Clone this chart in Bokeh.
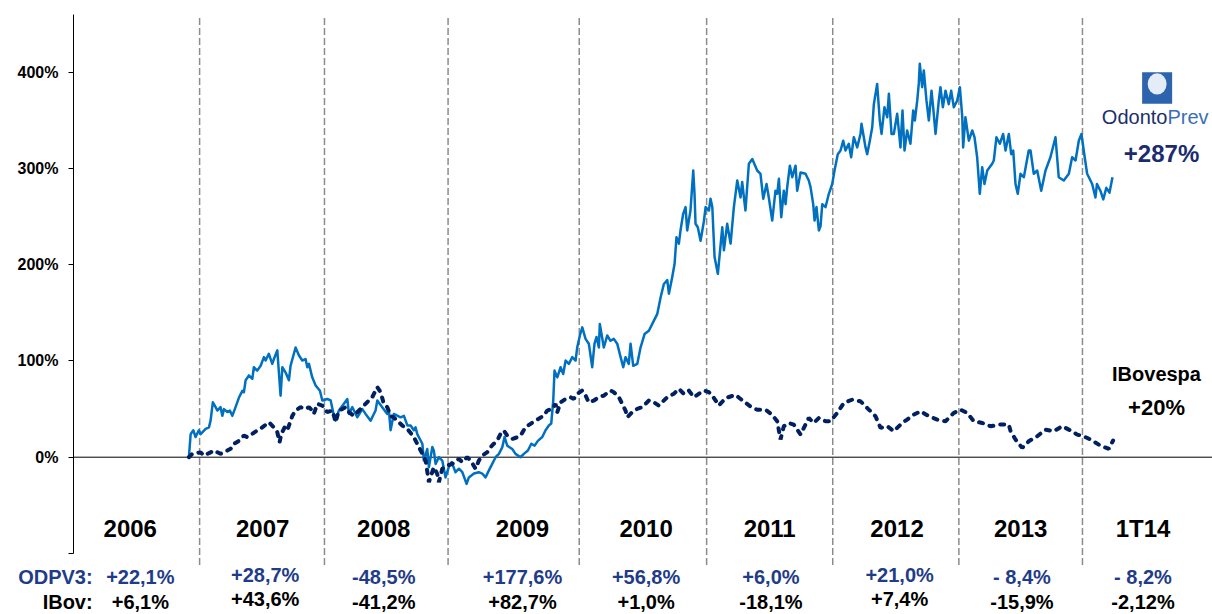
from bokeh.plotting import figure
from bokeh.models import Range1d, FixedTicker, ColumnDataSource
from bokeh.core.properties import value
from bokeh.embed import file_html
from bokeh.resources import INLINE

# ---------------- data (decimal year, % accumulated return) ----------------
odpv3_t = [2006.915, 2006.929, 2006.950, 2006.968, 2006.994, 2007.008, 2007.048, 2007.074, 2007.087, 2007.105,
           2007.127, 2007.140, 2007.166, 2007.180, 2007.193, 2007.220, 2007.240, 2007.259, 2007.285, 2007.312,
           2007.339, 2007.351, 2007.365, 2007.391, 2007.418, 2007.430, 2007.457, 2007.484, 2007.510, 2007.523,
           2007.549, 2007.576, 2007.589, 2007.616, 2007.642, 2007.656, 2007.682, 2007.708, 2007.721, 2007.761,
           2007.787, 2007.814, 2007.840, 2007.854, 2007.867, 2007.893, 2007.920, 2007.954, 2007.973, 2008.012,
           2008.039, 2008.065, 2008.078, 2008.104, 2008.144, 2008.171, 2008.184, 2008.211, 2008.250, 2008.290,
           2008.316, 2008.356, 2008.395, 2008.409, 2008.448, 2008.488, 2008.501, 2008.514, 2008.540, 2008.593,
           2008.620, 2008.647, 2008.673, 2008.699, 2008.712, 2008.726, 2008.766, 2008.778, 2008.805, 2008.818,
           2008.845, 2008.857, 2008.871, 2008.897, 2008.924, 2008.950, 2008.976, 2008.998, 2009.029, 2009.056,
           2009.083, 2009.117, 2009.135, 2009.175, 2009.214, 2009.241, 2009.267, 2009.293, 2009.320, 2009.347,
           2009.373, 2009.400, 2009.418, 2009.439, 2009.479, 2009.505, 2009.545, 2009.571, 2009.603, 2009.630,
           2009.656, 2009.682, 2009.717, 2009.743, 2009.769, 2009.788, 2009.804, 2009.814, 2009.836, 2009.862,
           2009.883, 2009.902, 2009.928, 2009.955, 2009.981, 2009.994, 2010.015, 2010.034, 2010.060, 2010.086,
           2010.113, 2010.131, 2010.147, 2010.166, 2010.173, 2010.205, 2010.232, 2010.258, 2010.284, 2010.311,
           2010.338, 2010.359, 2010.377, 2010.403, 2010.417, 2010.438, 2010.470, 2010.496, 2010.528, 2010.562,
           2010.602, 2010.629, 2010.655, 2010.681, 2010.708, 2010.721, 2010.747, 2010.766, 2010.781, 2010.800,
           2010.813, 2010.834, 2010.853, 2010.866, 2010.892, 2010.914, 2010.924, 2010.932, 2010.950, 2010.972,
           2010.998, 2011.012, 2011.038, 2011.051, 2011.065, 2011.083, 2011.109, 2011.144, 2011.157, 2011.183,
           2011.210, 2011.236, 2011.263, 2011.289, 2011.302, 2011.328, 2011.355, 2011.382, 2011.421, 2011.447,
           2011.469, 2011.495, 2011.513, 2011.540, 2011.566, 2011.580, 2011.593, 2011.612, 2011.632, 2011.646,
           2011.659, 2011.680, 2011.699, 2011.725, 2011.738, 2011.765, 2011.804, 2011.830, 2011.844, 2011.865,
           2011.876, 2011.891, 2011.910, 2011.923, 2011.937, 2011.963, 2011.989, 2012.016, 2012.034, 2012.060,
           2012.082, 2012.103, 2012.121, 2012.147, 2012.166, 2012.187, 2012.214, 2012.240, 2012.248, 2012.280,
           2012.293, 2012.314, 2012.333, 2012.346, 2012.372, 2012.393, 2012.407, 2012.430, 2012.452, 2012.465,
           2012.486, 2012.504, 2012.531, 2012.557, 2012.573, 2012.589, 2012.610, 2012.636, 2012.658, 2012.671,
           2012.690, 2012.702, 2012.710, 2012.729, 2012.742, 2012.763, 2012.782, 2012.803, 2012.816, 2012.835,
           2012.861, 2012.874, 2012.893, 2012.914, 2012.940, 2012.959, 2012.980, 2013.007, 2013.028, 2013.047,
           2013.054, 2013.072, 2013.099, 2013.126, 2013.144, 2013.165, 2013.186, 2013.205, 2013.223, 2013.245,
           2013.284, 2013.297, 2013.318, 2013.345, 2013.371, 2013.390, 2013.416, 2013.435, 2013.451, 2013.469,
           2013.487, 2013.509, 2013.535, 2013.574, 2013.588, 2013.614, 2013.641, 2013.673, 2013.707, 2013.746,
           2013.786, 2013.812, 2013.852, 2013.892, 2013.918, 2013.945, 2013.971, 2013.992, 2014.010, 2014.037,
           2014.077, 2014.103, 2014.115, 2014.142, 2014.165, 2014.189, 2014.214, 2014.238]
odpv3_pct = [0, 24, 28, 21, 28, 24, 29.5, 31, 38, 57,
             52, 48.5, 52, 43, 50, 47, 48.5, 43, 52, 62,
             69, 67.5, 80, 85, 81.5, 93.5, 90, 95, 104, 100.5,
             107.5, 97, 102, 111, 64, 93.5, 88, 80, 95, 114,
             106, 100.5, 102, 93.5, 97, 83, 74.5, 69, 59, 60.5,
             59, 43, 38, 48.5, 55.5, 60.5, 45, 52, 41.5, 50,
             45, 38, 48.5, 59, 52, 45, 48.5, 28, 45, 41.5,
             43, 33, 33, 28, 31, 24, 14, -3.5, 8.5, -10.5,
             10.5, 7, -7, 0, -3.5, -21, -10, -5, -15.6, -12,
             -15.6, -27.7, -21, -17, -15.6, -17, -21, -14, -7, 0,
             3.5, 10.5, 21, 12, 8.5, 3.5, 0, 3.5, 7, 14,
             12, 17, 21, 28, 33, 35, 59, 90, 83, 93.5,
             86.5, 100.5, 97, 104, 100.5, 114, 126.5, 135, 123, 118,
             93.5, 118, 125, 114, 138.5, 114, 126.5, 121, 123, 118,
             104, 93.5, 104, 97, 118, 95, 97, 114, 128, 131.5,
             142, 149, 166, 180, 184, 170, 187, 201, 228.7, 222,
             235.7, 253, 260, 235.7, 256.4, 298, 273.8, 242.6, 239, 225,
             245, 260, 256.4, 268.6, 260, 208, 190.6, 239, 215, 242.6,
             222, 260, 287.6, 270, 286, 256.4, 305, 310, 298, 294.6,
             268.6, 284, 270, 246, 277, 273.8, 289.4, 249.5, 277, 263,
             280.7, 303, 291, 303, 277, 296, 294.6, 287.6, 280.7, 263,
             246, 260, 235.7, 240, 263, 260, 273.8, 284, 298, 315,
             318.8, 329, 318.8, 325.8, 311.8, 332.6, 322, 336, 346.6, 322,
             315, 329, 343, 367, 388, 350, 336, 363.8, 353.4, 377.8,
             336, 336, 357, 322, 360.4, 318.8, 339.6, 325.8, 360.4, 350,
             370.8, 388, 409, 384.6, 402, 370.8, 350, 381, 363.8, 336,
             370.8, 384.6, 363.8, 381, 367, 381, 363.8, 370.8, 384.6, 353.4,
             322, 353.4, 329, 339.6, 332.6, 311.8, 273.8, 301.5, 284, 298,
             305, 308.4, 332.6, 325.8, 336, 318.8, 336, 315, 318.8, 284,
             273.8, 294.6, 291, 318.8, 318.8, 294.6, 298, 277, 298, 311.8,
             332.6, 291, 287.6, 294.6, 311.8, 308.4, 329, 336, 318.8, 294.6,
             284, 270, 284, 277, 268, 280, 275, 291]

ibov_t = [2006.915, 2006.942, 2007.008, 2007.034, 2007.087, 2007.113, 2007.166, 2007.193, 2007.246, 2007.272,
          2007.312, 2007.351, 2007.378, 2007.418, 2007.457, 2007.497, 2007.549, 2007.589, 2007.616, 2007.634,
          2007.648, 2007.674, 2007.695, 2007.735, 2007.761, 2007.801, 2007.840, 2007.867, 2007.893, 2007.906,
          2007.933, 2007.973, 2008.012, 2008.052, 2008.065, 2008.078, 2008.104, 2008.131, 2008.157, 2008.184,
          2008.223, 2008.263, 2008.303, 2008.342, 2008.369, 2008.409, 2008.435, 2008.461, 2008.488, 2008.514,
          2008.540, 2008.567, 2008.607, 2008.647, 2008.699, 2008.739, 2008.766, 2008.792, 2008.818, 2008.831,
          2008.857, 2008.884, 2008.897, 2008.924, 2008.964, 2009.003, 2009.056, 2009.083, 2009.122, 2009.149,
          2009.188, 2009.214, 2009.241, 2009.281, 2009.307, 2009.333, 2009.360, 2009.386, 2009.412, 2009.439,
          2009.479, 2009.519, 2009.545, 2009.584, 2009.624, 2009.664, 2009.730, 2009.756, 2009.796, 2009.822,
          2009.836, 2009.862, 2009.902, 2009.941, 2009.967, 2009.994, 2010.034, 2010.060, 2010.086, 2010.126,
          2010.166, 2010.205, 2010.258, 2010.284, 2010.324, 2010.351, 2010.377, 2010.391, 2010.430, 2010.470,
          2010.510, 2010.536, 2010.562, 2010.602, 2010.641, 2010.708, 2010.760, 2010.800, 2010.839, 2010.879,
          2010.919, 2010.958, 2010.998, 2011.038, 2011.065, 2011.117, 2011.170, 2011.249, 2011.315, 2011.368,
          2011.421, 2011.487, 2011.540, 2011.580, 2011.606, 2011.632, 2011.672, 2011.711, 2011.765, 2011.804,
          2011.830, 2011.870, 2011.910, 2011.963, 2012.002, 2012.055, 2012.108, 2012.174, 2012.240, 2012.306,
          2012.359, 2012.399, 2012.452, 2012.504, 2012.571, 2012.610, 2012.663, 2012.716, 2012.782, 2012.848,
          2012.914, 2012.980, 2013.033, 2013.086, 2013.139, 2013.205, 2013.271, 2013.337, 2013.416, 2013.430,
          2013.469, 2013.522, 2013.574, 2013.641, 2013.707, 2013.773, 2013.839, 2013.892, 2013.958, 2014.010,
          2014.063, 2014.142, 2014.208, 2014.243]
ibov_pct = [0, 3.5, 5, 1.7, 5, 7, 3.5, 5, 8.7, 14,
            17, 22.5, 20.8, 24.3, 27.7, 31, 36.4, 31, 26, 15.6,
            24.3, 31, 27.7, 43, 48.5, 52, 50, 52, 48.5, 45,
            55.4, 53.7, 46.8, 48.5, 43, 36.4, 48.5, 50, 52, 46.8,
            43, 48.5, 53.7, 59, 62.4, 72.8, 67.6, 55.4, 52, 43,
            41.2, 38, 32.9, 29.5, 20.8, 10.4, 3.5, -3.5, -26, -20.8,
            -10.4, -17.3, -26, -12, -8.7, -6.9, -1.7, -5.2, 0, -3.5,
            -12, -3.5, 1.7, 5.2, 10.4, 14, 17.3, 24.3, 27.7, 22.5,
            19, 20.8, 22.5, 31.2, 34.7, 38, 43.3, 48.5, 50.3, 55.4,
            46.8, 57, 60.6, 62.4, 60.6, 65.9, 69.3, 64.1, 57, 58.9,
            62.4, 64.1, 69.3, 67.6, 62.4, 55.4, 48.5, 41.6, 46.8, 50.3,
            52, 55.4, 59, 57, 53.7, 62.4, 65.9, 71.1, 65.9, 69.3,
            62.4, 65.9, 69.3, 67.6, 64.1, 53.7, 61.4, 64.8, 57.9, 52.7,
            49.3, 49.3, 44.1, 37.2, 18.4, 32.2, 35.6, 33.9, 23.5, 33.9,
            40.8, 35.6, 40.8, 37.4, 37.4, 46, 56.4, 59.8, 58.1, 49.5,
            42.6, 30.5, 32.2, 27, 35.6, 39.1, 44.3, 47.7, 42.6, 39.1,
            37.4, 46, 49.5, 46, 37.4, 35.6, 32.2, 33.9, 33.9, 27,
            18.4, 9.7, 16.6, 21.8, 28.7, 27, 32.2, 28.7, 23.5, 21.8,
            18.4, 12.1, 8.7, 17.3]

year_bounds = [2007.0, 2007.99, 2008.97, 2010.01, 2011.02, 2012.02, 2013.02, 2014.0]
period_labels = ["2006", "2007", "2008", "2009", "2010", "2011", "2012", "2013", "1T14"]
odpv3_returns = ["+22,1%", "+28,7%", "-48,5%", "+177,6%", "+56,8%", "+6,0%", "+21,0%", "- 8,4%", "- 8,2%"]
ibov_returns = ["+6,1%", "+43,6%", "-41,2%", "+82,7%", "+1,0%", "-18,1%", "+7,4%", "-15,9%", "-2,12%"]
y_ticks = [-100, 0, 100, 200, 300, 400]

# ---------------- layout (positions in data units) ----------------
X0, X1 = 2006.0, 2015.031           # start of the time axis / right edge
period_x = [2006.45, 2007.50, 2008.46, 2009.56, 2010.54, 2011.52, 2012.53, 2013.51, 2014.48]
period_y = [-74] * 9
ret_x = [2006.53, 2007.52, 2008.46, 2009.56, 2010.54, 2011.53, 2012.55, 2013.52, 2014.48]
odpv3_ret_y = [-125, -122, -125, -125, -125, -125, -122, -125, -125]
ibov_ret_y = [-150, -147, -150, -150, -150, -150, -147, -150, -150]

FONT = "Liberation Sans"
NAVY = "#1F3C88"

p = figure(width=1212, height=614, output_backend="svg", toolbar_location=None,
           x_range=Range1d(2005.4213, X1), y_range=Range1d(-163.5, 461.2),
           x_axis_location=None, min_border_left=0, min_border_right=0,
           min_border_top=13, min_border_bottom=0)
p.outline_line_color = None
p.grid.visible = False
p.background_fill_color = "white"
p.border_fill_color = "white"

ax = p.yaxis[0]
ax.fixed_location = X0
ax.bounds = (-100, 460)
ax.ticker = FixedTicker(ticks=y_ticks)
ax.major_label_overrides = {t: ("" if t < 0 else f"{t}%") for t in y_ticks}
ax.axis_line_color = "black"
ax.axis_line_width = 1
ax.major_tick_out = 5
ax.major_tick_in = 0
ax.minor_tick_line_color = None
ax.major_tick_line_color = "black"
ax.major_label_text_font = FONT
ax.major_label_text_font_style = "bold"
ax.major_label_text_font_size = "16px"
ax.major_label_text_color = "black"
ax.major_label_standoff = 10

# zero (category) axis line
p.segment(x0=[X0], y0=[0], x1=[X1], y1=[0], line_color="black", line_width=1)

div_src = ColumnDataSource(dict(x=year_bounds, y0=[-112] * len(year_bounds), y1=[458] * len(year_bounds)))
p.segment(x0="x", y0="y0", x1="x", y1="y1", source=div_src, line_color="#8c8c8c",
          line_width=1.5, line_dash="7 3")

p.line(odpv3_t, odpv3_pct, line_color="#0070C0", line_width=2.5, line_join="round")
p.line(ibov_t, ibov_pct, line_color="#002060", line_width=4, line_dash="4 7", line_cap="round")

p.text(x=period_x, y=period_y, text=period_labels, text_font=value(FONT), text_font_style="bold",
       text_font_size="24px", text_align="center", text_baseline="middle", text_color="black")
p.text(x=ret_x, y=odpv3_ret_y, text=odpv3_returns, text_font=value(FONT), text_font_style="bold",
       text_font_size="20px", text_align="center", text_baseline="middle", text_color=NAVY)
p.text(x=ret_x, y=ibov_ret_y, text=ibov_returns, text_font=value(FONT), text_font_style="bold",
       text_font_size="20px", text_align="center", text_baseline="middle", text_color="black")
p.text(x=[2006.152], y=[-125], text=["ODPV3:"], text_font=value(FONT), text_font_style="bold",
       text_font_size="20px", text_align="right", text_baseline="middle", text_color=NAVY)
p.text(x=[2006.152], y=[-150], text=["IBov:"], text_font=value(FONT), text_font_style="bold",
       text_font_size="20px", text_align="right", text_baseline="middle", text_color="black")

# end labels
p.text(x=[2014.587], y=[87], text=["IBovespa"], text_font=value(FONT), text_font_style="bold",
       text_font_size="20px", text_align="center", text_baseline="middle", text_color="black")
p.text(x=[2014.587], y=[51.7], text=["+20%"], text_font=value(FONT), text_font_style="bold",
       text_font_size="22px", text_align="center", text_baseline="middle", text_color="black")
p.text(x=[2014.627], y=[315.7], text=["+287%"], text_font=value(FONT), text_font_style="bold",
       text_font_size="24px", text_align="center", text_baseline="middle", text_color="#1A2C6E")

# OdontoPrev logo
p.rect(x=[2014.592], y=[383.8], width=0.238, height=32.8, fill_color="#2E63AE", line_color=None)
p.ellipse(x=[2014.592], y=[388], width=0.15, height=22, fill_color="#E4ECF7", line_color=None)
p.text(x=[2014.674], y=[354], text=["Odonto"], text_font=value(FONT),
       text_font_size="20px", text_align="right", text_baseline="middle", text_color="#1B2F6B")
p.text(x=[2014.674], y=[354], text=["Prev"], text_font=value(FONT),
       text_font_size="20px", text_align="left", text_baseline="middle", text_color="#3A6FB7")

open("out.html", "w").write(file_html(p, INLINE))
